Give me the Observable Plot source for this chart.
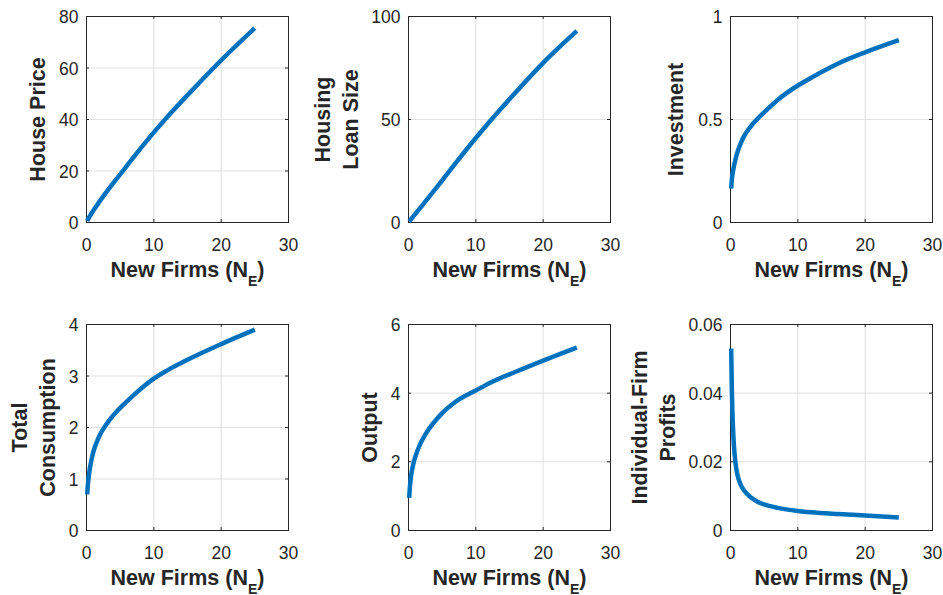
<!DOCTYPE html>
<html>
<head>
<meta charset="utf-8">
<script src="https://cdn.jsdelivr.net/npm/d3@7"></script>
<script src="https://cdn.jsdelivr.net/npm/@observablehq/plot@0.6"></script>
<style>
  html, body { margin: 0; padding: 0; background: #fff; overflow: hidden; }
  #fig { position: relative; width: 943px; height: 595px; overflow: hidden; background: #fff; }
  #fig > svg { position: absolute; }
</style>
</head>
<body>
<div id="fig"></div>
<script>
// Number of new firms entering (N_E), shared by every panel
const newFirms = [0.1, 0.2, 0.35, 0.5, 0.75, 1, 1.5, 2, 3, 4, 5, 7, 10, 12, 16, 20, 25];

// Equilibrium outcomes at each N_E
const housePrice  = [0.62, 1.13, 1.84, 2.51, 3.58, 4.6, 6.5, 8.4, 12.0, 15.4, 18.7, 25.4, 35.0, 41.0, 52.2, 63.0, 75.5];
const loanSize    = [0.5, 0.9, 1.5, 2.1, 3.1, 4.1, 6.1, 8.1, 12.2, 16.3, 20.4, 28.8, 41.0, 48.8, 63.5, 77.5, 93.0];
const investment  = [0.165, 0.208, 0.245, 0.272, 0.308, 0.338, 0.383, 0.418, 0.466, 0.503, 0.535, 0.595, 0.665, 0.703, 0.772, 0.826, 0.885];
const consumption = [0.7, 0.88, 1.06, 1.2, 1.38, 1.52, 1.71, 1.86, 2.07, 2.24, 2.38, 2.63, 2.95, 3.11, 3.38, 3.62, 3.9];
const output      = [0.95, 1.25, 1.55, 1.74, 1.97, 2.14, 2.41, 2.62, 2.95, 3.2, 3.42, 3.75, 4.08, 4.29, 4.63, 4.95, 5.33];
const profits     = [0.053, 0.041, 0.031, 0.025, 0.0195, 0.0165, 0.0134, 0.0117, 0.0097, 0.0084, 0.0076, 0.0066, 0.0057, 0.0053, 0.0048, 0.0044, 0.0038];

// Tick values
const xTicks           = [0, 10, 20, 30];
const housePriceTicks  = [0, 20, 40, 60, 80];
const loanTicks        = [0, 50, 100];
const investmentTicks  = [0, 0.5, 1];
const consumptionTicks = [0, 1, 2, 3, 4];
const outputTicks      = [0, 2, 4, 6];
const profitTicks      = [0, 0.02, 0.04, 0.06];

// Axis titles
const yLabels = ["House Price", "Housing\nLoan Size", "Investment", "Total\nConsumption", "Output", "Individual-Firm\nProfits"];
const xLabel  = ["New Firms (N", "E", ")"];

// Styling
const FONT = "'Liberation Sans', Arial, Helvetica, sans-serif";
const INK = "#262626";
const GRID = "#dfdfdf";
const BLUE = "#0072BD";

// Panel geometry (plot-area frame)
const W = 202, H = 206, ML = 100, MR = 8, MT = 12, MB = 66;
const colLeft = [86, 408, 730];
const rowTop = [16, 324];
const labelOffsets = [60.5, 97.5, 66.5, 78.5, 50.5, 102.5];

const series = [housePrice, loanSize, investment, consumption, output, profits];
const tickSets = [housePriceTicks, loanTicks, investmentTicks, consumptionTicks, outputTicks, profitTicks];

const fig = document.getElementById("fig");
const fmt = d => `${d}`;
const xLabelText = xLabel.join("");

series.forEach((values, i) => {
  const ticks = tickSets[i];
  const rows = newFirms.map((ne, j) => ({ne, v: values[j]}));
  const chart = Plot.plot({
    width: ML + W + MR,
    height: MT + H + MB,
    marginLeft: ML, marginRight: MR, marginTop: MT, marginBottom: MB,
    style: {fontFamily: FONT, fontSize: "17.5px", color: INK, background: "transparent", overflow: "visible"},
    x: {domain: [0, 30], ticks: xTicks, tickFormat: fmt},
    y: {domain: [ticks[0], ticks[ticks.length - 1]], ticks, tickFormat: fmt},
    marks: [
      Plot.gridX(xTicks, {stroke: GRID, strokeOpacity: 1, strokeWidth: 1}),
      Plot.gridY(ticks, {stroke: GRID, strokeOpacity: 1, strokeWidth: 1}),
      Plot.axisX(xTicks, {tickSize: 0, tickPadding: 16, tickFormat: fmt, label: null, fill: INK}),
      Plot.axisY(ticks, {tickSize: 0, tickPadding: 8, tickFormat: fmt, label: null, fill: INK, dy: 1}),
      // inward ticks on all four sides of the box
      Plot.tickX(xTicks, {x: d => d, insetTop: H - 3, stroke: INK}),
      Plot.tickX(xTicks, {x: d => d, insetBottom: H - 3, stroke: INK}),
      Plot.tickY(ticks, {y: d => d, insetRight: W - 3, stroke: INK}),
      Plot.tickY(ticks, {y: d => d, insetLeft: W - 3, stroke: INK}),
      Plot.frame({stroke: INK, strokeWidth: 1}),
      Plot.line(rows, {x: "ne", y: "v", curve: "monotone-x", stroke: BLUE, strokeWidth: 4.5, strokeLinecap: "butt"}),
      Plot.text([yLabels[i]], {
        text: d => d, frameAnchor: "left", textAnchor: "middle", dx: -labelOffsets[i], rotate: -90,
        lineAnchor: "top", lineHeight: 1.27, fontSize: 21.5, fontWeight: "bold", fill: INK
      }),
      Plot.text([xLabelText], {
        text: d => d, frameAnchor: "bottom", textAnchor: "middle", dy: 39.7,
        lineAnchor: "top", fontSize: 21.5, fontWeight: "bold", fill: INK
      })
    ]
  });

  // subscript E in the x-axis title
  d3.select(chart).selectAll("text")
    .filter(function () { return this.textContent === xLabelText; })
    .each(function () {
      const t = d3.select(this);
      t.text(null);
      t.append("tspan").text(xLabel[0]);
      t.append("tspan").attr("font-size", 14).attr("dy", 8.5).text(xLabel[1]);
      t.append("tspan").attr("dy", -8.5).text(xLabel[2]);
    });

  const col = i % 3, row = Math.floor(i / 3);
  chart.style.left = `${colLeft[col] - ML}px`;
  chart.style.top = `${rowTop[row] - MT}px`;
  fig.appendChild(chart);
});
</script>
</body>
</html>
